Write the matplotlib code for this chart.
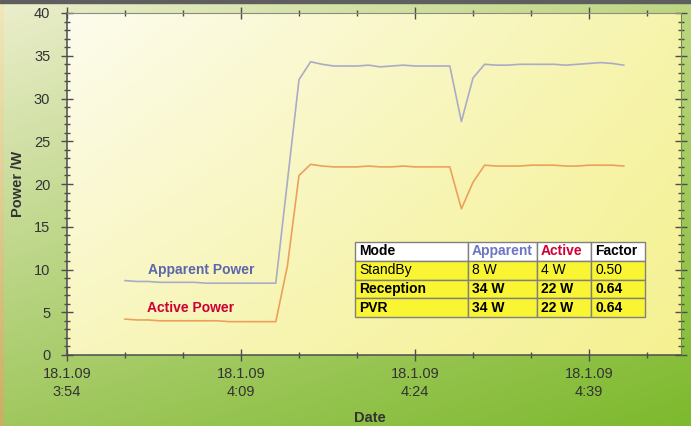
import numpy as np
import matplotlib
matplotlib.use("Agg")
import matplotlib.pyplot as plt
from matplotlib.ticker import MultipleLocator
from matplotlib.patches import Rectangle

plt.rcParams['font.family'] = ['Liberation Sans', 'DejaVu Sans']

# ── Data (minutes after 18.1.09 3:54) ─────────────────────────────────────────
minutes = list(range(5, 49))
apparent = [8.7, 8.6, 8.6, 8.5, 8.5, 8.5, 8.5, 8.4, 8.4, 8.4, 8.4, 8.4, 8.4, 8.4,
            20.3, 32.2, 34.3, 34.0, 33.8, 33.8, 33.8, 33.9, 33.7, 33.8, 33.9, 33.8,
            33.8, 33.8, 33.8, 27.3, 32.4, 34.0, 33.9, 33.9, 34.0, 34.0, 34.0, 34.0,
            33.9, 34.0, 34.1, 34.2, 34.1, 33.9]
active = [4.2, 4.1, 4.1, 4.0, 4.0, 4.0, 4.0, 4.0, 4.0, 3.9, 3.9, 3.9, 3.9, 3.9,
          10.4, 21.0, 22.3, 22.1, 22.0, 22.0, 22.0, 22.1, 22.0, 22.0, 22.1, 22.0,
          22.0, 22.0, 22.0, 17.1, 20.2, 22.2, 22.1, 22.1, 22.1, 22.2, 22.2, 22.2,
          22.1, 22.1, 22.2, 22.2, 22.2, 22.1]

tick_pos = [0, 15, 30, 45]
tick_labels = ["18.1.09\n3:54", "18.1.09\n4:09", "18.1.09\n4:24", "18.1.09\n4:39"]

table_cols = ["Mode", "Apparent", "Active", "Factor"]
table_rows = [["StandBy", "8 W", "4 W", "0.50"],
              ["Reception", "34 W", "22 W", "0.64"],
              ["PVR", "34 W", "22 W", "0.64"]]

# ── Helpers ───────────────────────────────────────────────────────────────────
def bilinear(tl, tr, bl, br, h=200, w=300):
    tl, tr, bl, br = [np.array(c, float) / 255 for c in (tl, tr, bl, br)]
    u = np.linspace(0, 1, w)[None, :, None]
    v = np.linspace(0, 1, h)[:, None, None]
    top = tl * (1 - u) + tr * u
    bot = bl * (1 - u) + br * u
    return top * (1 - v) + bot * v

# ── Figure ────────────────────────────────────────────────────────────────────
fig = plt.figure(figsize=(6.91, 4.26), dpi=100)

bg = fig.add_axes([0, 0, 1, 1], zorder=-10)
bg.imshow(bilinear((236, 238, 205), (190, 215, 130), (160, 200, 95), (125, 185, 45)),
          extent=[0, 1, 0, 1], aspect='auto', origin='upper')
bg.add_patch(Rectangle((0, 1 - 3 / 426), 1, 3 / 426, color=(0.37, 0.37, 0.37)))
bg.imshow(bilinear((240, 232, 185), (240, 232, 185), (200, 175, 100), (200, 175, 100), w=2),
          extent=[0, 4 / 691, 0, 1 - 3 / 426], aspect='auto', origin='upper')
bg.set_xlim(0, 1)
bg.set_ylim(0, 1)
bg.axis('off')

ax = fig.add_axes([67 / 691, 1 - 355 / 426, (681 - 67) / 691, (355 - 13) / 426])
ax.imshow(bilinear((253, 252, 238), (246, 244, 172), (248, 246, 190), (245, 241, 145)),
          extent=[0, 1, 0, 1], transform=ax.transAxes, aspect='auto',
          origin='upper', zorder=0)

ax.plot(minutes, apparent, color=(0.67, 0.67, 0.78), lw=1.2, zorder=3)
ax.plot(minutes, active, color=(0.92, 0.63, 0.36), lw=1.2, zorder=3)

ax.set_xlim(0, (681 - 67) / 11.6)
ax.set_ylim(0, 40)

ax.set_xticks(tick_pos)
ax.set_xticklabels(tick_labels, linespacing=1.3)
ax.xaxis.set_minor_locator(MultipleLocator(5))
ax.yaxis.set_major_locator(MultipleLocator(5))
ax.yaxis.set_minor_locator(MultipleLocator(1))

tc = (0.2, 0.2, 0.2)
ax.tick_params(axis='both', which='both', direction='inout', colors=(0.3, 0.3, 0.3),
               labelcolor=tc, labelsize=10.5, top=True, right=True)
ax.tick_params(axis='both', which='major', length=8, width=1)
ax.tick_params(axis='both', which='minor', length=5, width=1)
ax.tick_params(axis='x', which='both', top=True, labeltop=False)
ax.tick_params(axis='x', which='major', pad=5)
ax.tick_params(axis='y', which='major', pad=8)

for side in ['left', 'bottom']:
    ax.spines[side].set_color((0.3, 0.3, 0.3))
    ax.spines[side].set_linewidth(1.1)
ax.spines['top'].set_color((0.55, 0.55, 0.5))
ax.spines['right'].set_color((0.45, 0.55, 0.3))

ax.set_ylabel("Power /W", fontsize=10.5, fontweight='bold', color=tc)
ax.yaxis.set_label_coords(-(67 - 25) / 614, 0.5)
ax.set_xlabel("Date", fontsize=10.5, fontweight='bold', color=tc)
ax.xaxis.set_label_coords((370 - 67) / 614, -(411 - 355) / 342)

ax.text(7.0, 9.9, "Apparent Power", fontsize=10, fontweight='bold', va='center',
        color=(0.36, 0.40, 0.68), zorder=4)
ax.text(6.9, 5.5, "Active Power", fontsize=10, fontweight='bold', va='center',
        color=(0.80, 0.0, 0.20), zorder=4)

# ── Table ─────────────────────────────────────────────────────────────────────
col_w = [113, 69, 54, 54]
tbl = ax.table(cellText=table_rows, colLabels=table_cols, cellLoc='left',
               colLoc='left', colWidths=[w / 290 for w in col_w],
               bbox=[(355 - 67) / 614, (355 - 317) / 342, 290 / 614, 75 / 342])
tbl.auto_set_font_size(False)
tbl.set_fontsize(10)
tbl.set_zorder(5)
head_colors = ['black', (0.42, 0.46, 0.76), (0.82, 0.0, 0.20), 'black']
for (r, c), cell in tbl.get_celld().items():
    cell.set_edgecolor((0.5, 0.5, 0.5))
    cell.set_linewidth(1.0)
    cell.PAD = 4.0 / col_w[c]
    txt = cell.get_text()
    if r == 0:
        cell.set_facecolor('white')
        txt.set_color(head_colors[c])
        txt.set_fontweight('bold')
    else:
        cell.set_facecolor((0.98, 0.96, 0.2))
        if r >= 2:
            txt.set_fontweight('bold')

fig.savefig("out.png", dpi=100)
